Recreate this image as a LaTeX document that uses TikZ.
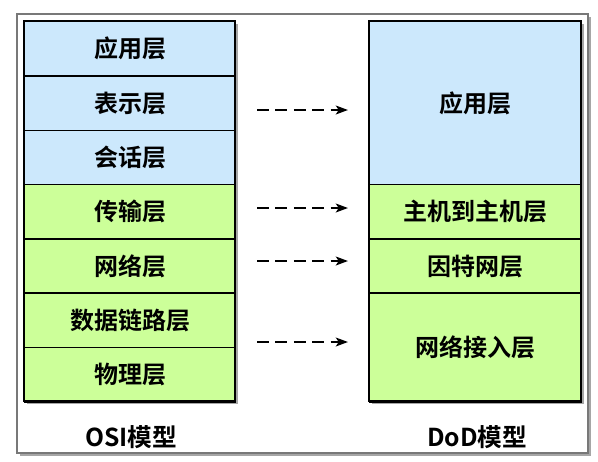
\documentclass[tikz,border=0pt]{standalone}
\usepackage{fontspec}
\setmainfont{Noto Sans CJK SC}[BoldFont={Noto Sans CJK SC Bold}]
\usetikzlibrary{arrows.meta,shadows}
\definecolor{lblue}{RGB}{204,232,252}
\definecolor{lgreen}{RGB}{204,255,153}
\definecolor{framegray}{RGB}{120,120,120}
\begin{document}
\begin{tikzpicture}[x=0.75pt,y=-0.75pt,
  row/.style={draw=black,line width=1.1pt,inner sep=0pt,minimum width=158.25pt,
     font=\fontsize{18}{20}\selectfont\bfseries},
  bluerow/.style={row,fill=lblue},
  greenrow/.style={row,fill=lgreen},
  stackbox/.style={draw=black,line width=2pt,fill=white,
     drop shadow={shadow xshift=2pt,shadow yshift=-2pt,opacity=0.35,fill=black}},
  flowarrow/.style={line width=1.9pt,dash pattern=on 9pt off 4.8pt,
     -{Stealth[length=9pt,width=6.5pt,inset=2pt]}},
  caption/.style={font=\fontsize{18.5}{20}\selectfont\bfseries}]
\useasboundingbox (0,0) rectangle (598,461);
\fill[white] (0,0) rectangle (598,461);
% outer frame
\draw[framegray,line width=1.5pt,fill=white,
  drop shadow={shadow xshift=2.5pt,shadow yshift=-2.5pt,opacity=0.35,fill=black}]
  (17,14) rectangle (588,453);
% stacks background with shadow
\draw[stackbox] (24,21) rectangle (235,401);
\draw[stackbox] (369,21) rectangle (581,401);
% OSI rows
\node[bluerow,minimum height=40.7pt,anchor=north west] (o1) at (24,21) {应用层};
\node[bluerow,minimum height=40.7pt,anchor=north west] (o2) at (24,75.3) {表示层};
\node[bluerow,minimum height=40.7pt,anchor=north west] (o3) at (24,129.6) {会话层};
\node[greenrow,minimum height=40.7pt,anchor=north west] (o4) at (24,183.9) {传输层};
\node[greenrow,minimum height=40.7pt,anchor=north west] (o5) at (24,238.2) {网络层};
\node[greenrow,minimum height=40.7pt,anchor=north west] (o6) at (24,292.5) {数据链路层};
\node[greenrow,minimum height=40.7pt,anchor=north west] (o7) at (24,346.8) {物理层};
% DoD rows
\node[bluerow,minimum width=159pt,minimum height=122.2pt,anchor=north west] (d1) at (369,21) {应用层};
\node[greenrow,minimum width=159pt,minimum height=40.7pt,anchor=north west] (d2) at (369,183.9) {主机到主机层};
\node[greenrow,minimum width=159pt,minimum height=40.7pt,anchor=north west] (d3) at (369,238.2) {因特网层};
\node[greenrow,minimum width=159pt,minimum height=81.4pt,anchor=north west] (d4) at (369,292.5) {网络接入层};
% outer borders of stacks
\draw[black,line width=2pt] (24,21) rectangle (235,401);
\draw[black,line width=2pt] (369,21) rectangle (581,401);
% captions
\node[caption] (osi) at (131,437) {OSI模型};
\node[caption] (dod) at (477,437) {DoD模型};
% arrows
\coordinate (s1) at (257,110); \coordinate (e1) at (348,110);
\coordinate (s2) at (257,208); \coordinate (e2) at (348,208);
\coordinate (s3) at (257,261); \coordinate (e3) at (348,261);
\coordinate (s4) at (257,342); \coordinate (e4) at (348,342);
\draw[flowarrow] (s1) -- (e1);
\draw[flowarrow] (s2) -- (e2);
\draw[flowarrow] (s3) -- (e3);
\draw[flowarrow] (s4) -- (e4);
\end{tikzpicture}
\end{document}
